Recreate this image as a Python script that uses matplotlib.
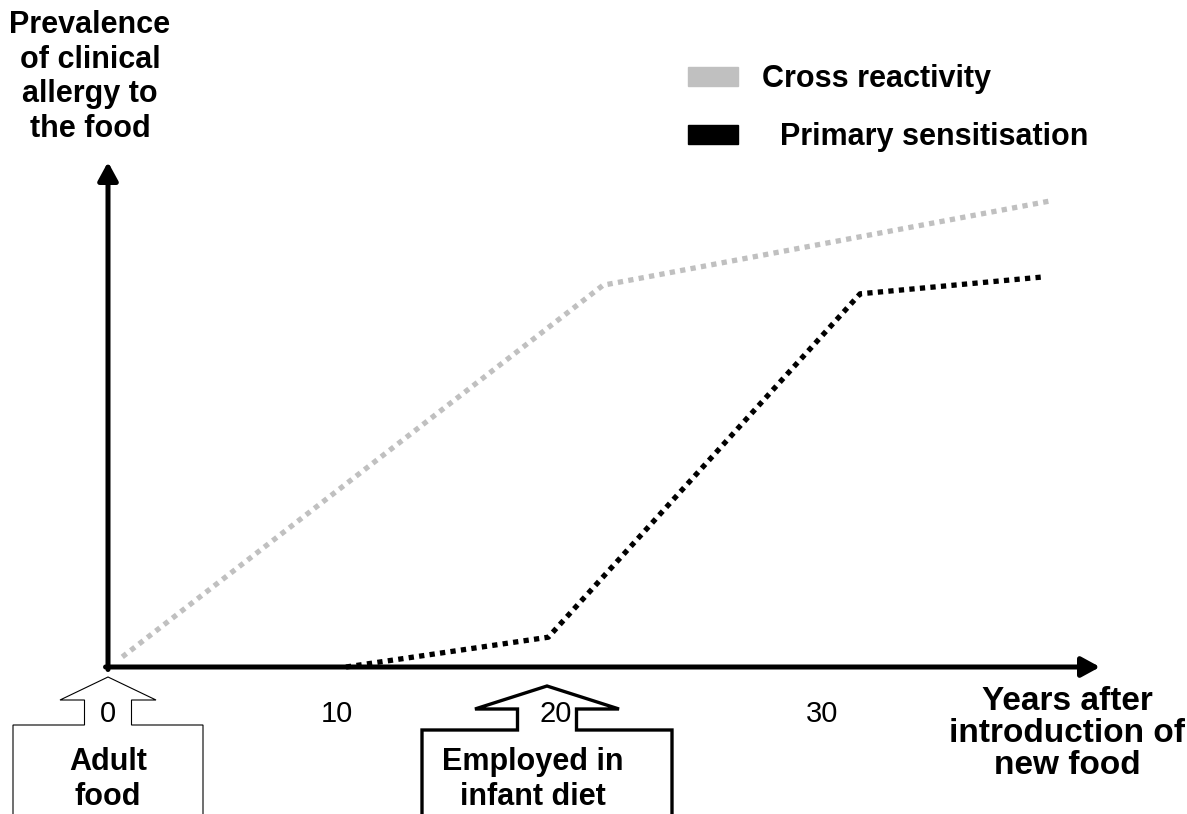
import matplotlib
matplotlib.use("Agg")
import matplotlib.pyplot as plt
from matplotlib.patches import Polygon, Rectangle

plt.rcParams['font.family'] = ['Liberation Sans', 'DejaVu Sans']

W, H = 1187, 814  # output size in px

# data (years after introduction, prevalence 0-100)
cross_x = [0.6, 20.8, 39.6]
cross_y = [2.0, 75.6, 92.3]
primary_x = [10.0, 18.5, 31.6, 39.2]
primary_y = [0.0, 5.9, 73.9, 77.2]

tick_pos = [0, 9.6, 18.8, 30]
tick_labels = ['0', '10', '20', '30']

series_names = ['Cross reactivity', 'Primary sensitisation']
series_colors = ['#c0c0c0', '#000000']

callout_texts = ['Adult\nfood', 'Employed in\ninfant diet']

fig = plt.figure(figsize=(W / 100, H / 100), dpi=100)

def fx(px):
    return px / W

def fy(py):
    return 1 - py / H

# axes box: origin at (108, 667) px, ends at (1100, 162) px
ax = fig.add_axes([fx(108), fy(667), fx(1100) - fx(108), fy(162) - fy(667)])
ax.set_xlim(0, 41.68)
ax.set_ylim(0, 100)
ax.patch.set_visible(False)
for s in ax.spines.values():
    s.set_visible(False)
ax.set_yticks([])
ax.set_xticks(tick_pos)
ax.set_xticklabels(tick_labels, fontsize=21)
ax.tick_params(axis='x', length=0, pad=24)

# axis arrows
aw = dict(arrowstyle='-|>,head_length=0.55,head_width=0.3', lw=3.6,
          color='black', shrinkA=0, shrinkB=0, mutation_scale=20)
ax.annotate('', xy=(1, 0), xytext=(-0.0025, 0), xycoords='axes fraction',
            arrowprops=aw)
ax.annotate('', xy=(0, 1), xytext=(0, -0.005), xycoords='axes fraction',
            arrowprops=aw)

ax.plot(cross_x, cross_y, color=series_colors[0], lw=3.8,
        linestyle=(0, (1, 1)), clip_on=False, zorder=3)
ax.plot(primary_x, primary_y, color=series_colors[1], lw=3.8,
        linestyle=(0, (1, 1)), clip_on=False, zorder=4)

# legend drawn by hand
leg_text_x = [762, 780]
for i, (name, col) in enumerate(zip(series_names, series_colors)):
    ytop = 67 + i * 58
    fig.patches.append(Rectangle((fx(688), fy(ytop + 19)), fx(50), 19 / H,
                                 transform=fig.transFigure, color=col))
    fig.text(fx(leg_text_x[i]), fy(ytop + 12), name, fontsize=22,
             fontweight='bold', va='center', ha='left')

# axis titles (va='baseline' pins the last line's baseline)
fig.text(fx(90), fy(137), 'Prevalence\nof clinical\nallergy to\nthe food',
         fontsize=22, fontweight='bold', ha='center', va='baseline',
         linespacing=1.2)
fig.text(fx(1067), fy(774), 'Years after\nintroduction of\nnew food',
         fontsize=24, fontweight='bold', ha='center', va='baseline',
         linespacing=1.05)

# up-pointing block-arrow callouts
def callout(cx, tip, head_y, head_hw, shaft_hw, box_y, box_hw, lw):
    pts = [(cx, tip), (cx + head_hw, head_y), (cx + shaft_hw, head_y),
           (cx + shaft_hw, box_y), (cx + box_hw, box_y), (cx + box_hw, H + 20),
           (cx - box_hw, H + 20), (cx - box_hw, box_y), (cx - shaft_hw, box_y),
           (cx - shaft_hw, head_y), (cx - head_hw, head_y)]
    poly = Polygon([(fx(x), fy(y)) for x, y in pts], closed=True,
                   transform=fig.transFigure, facecolor='white',
                   edgecolor='black', lw=lw, zorder=-1, clip_on=False)
    fig.patches.append(poly)

callout(108, 677, 700, 48, 23.5, 725, 95, 0.8)
callout(547, 686, 709, 72, 29.5, 730, 125, 2.4)

fig.text(fx(108), fy(805), callout_texts[0], fontsize=22, fontweight='bold',
         ha='center', va='baseline', linespacing=1.2)
fig.text(fx(533), fy(805), callout_texts[1], fontsize=22, fontweight='bold',
         ha='center', va='baseline', linespacing=1.2)

fig.savefig('out.png', dpi=100)
